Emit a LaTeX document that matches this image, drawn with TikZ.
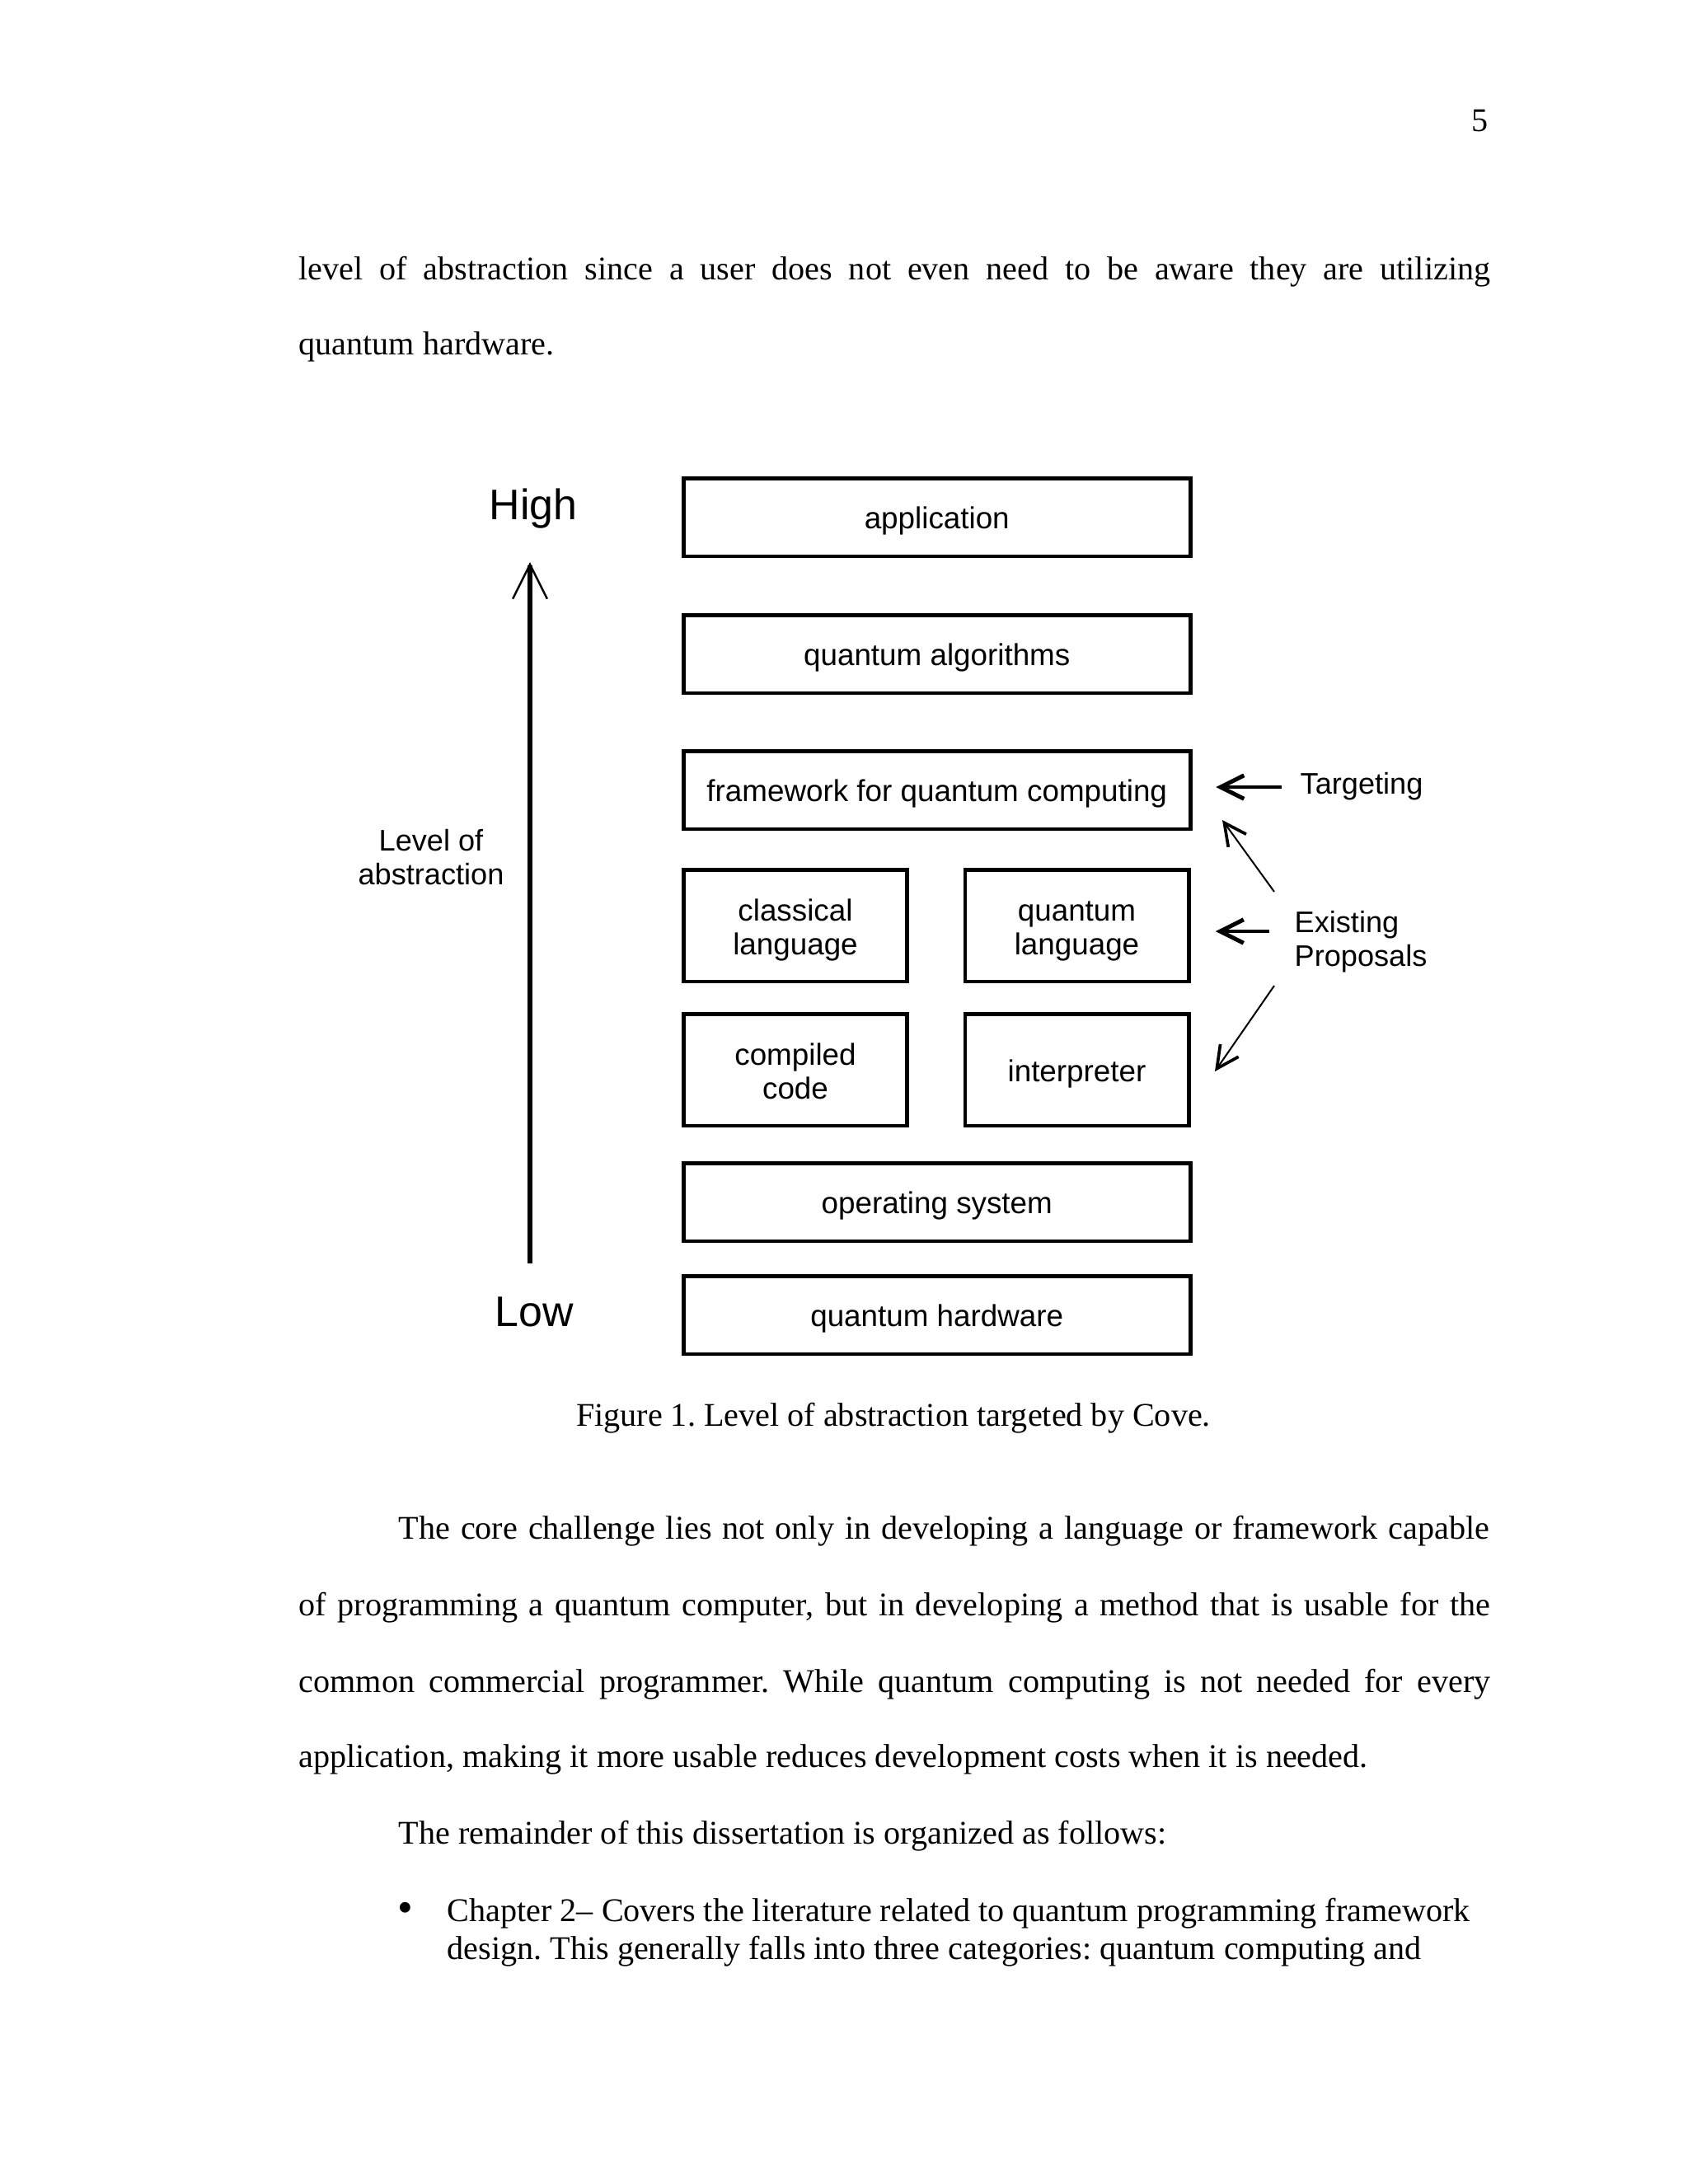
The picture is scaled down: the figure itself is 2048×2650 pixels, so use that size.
\documentclass[tikz,border=0pt]{standalone}
\usepackage{fontspec}
\setmainfont{Liberation Serif}
\newfontfamily\arialf{Liberation Sans}
\usetikzlibrary{arrows.meta}
\begin{document}
\begin{tikzpicture}[x=0.29883pt,y=-0.29883pt,
  box/.style={draw, line width=1.35pt, inner sep=0pt, align=center,
    font=\arialf\fontsize{11}{12}\selectfont},
  one/.style={text height=10.7pt, text depth=2.33pt},
  two/.style={text height=23.3pt, text depth=2.33pt},
  wide/.style={box, one, minimum width=183.78pt, minimum height=28.24pt},
  small/.style={box, two, minimum width=81.13pt, minimum height=40.49pt},
  lbl/.style={font=\arialf\fontsize{10.8}{12}\selectfont, inner sep=0pt},
  big/.style={font=\arialf\fontsize{15.5}{18}\selectfont, inner sep=0pt},
  body/.style={font=\fontsize{12}{14}\selectfont\frenchspacing, inner sep=0pt, anchor=base west},
  mainarrow/.style={line width=1.5pt, -{Straight Barb[length=12.5pt,width=12.5pt,line width=0.75pt]}},
  hvarrow/.style={line width=1.3pt, -{Straight Barb[length=8.5pt,width=8.5pt,line width=1.5pt]}},
  diagarrow/.style={line width=0.6pt, -{Straight Barb[length=8pt,width=8pt,line width=1.1pt]}}
]
\fill[white] (0,0) rectangle (2048,2650);
\useasboundingbox (0,0) rectangle (2048,2650);

% page number and body text
\node[body, anchor=base east] (pn) at (1806,159) {5};
\node[body] (l1) at (362,339) {\makebox[432pt][s]{level of abstraction since a user does not even need to be aware they are utilizing}};
\node[body] (l2) at (362,430) {quantum hardware.};

% boxes
\node[wide] (app) at (1136.75,627.5) {application};
\node[wide] (alg) at (1136.75,793.5) {quantum algorithms};
\node[wide] (fw) at (1136.75,958.5) {framework for quantum computing};
\node[small] (cl) at (965,1123) {classical\\language};
\node[small] (ql) at (1306.5,1123) {quantum\\language};
\node[small] (cc) at (965,1298) {compiled\\code};
\node[small, one] (ip) at (1306.5,1298) {interpreter};
\node[wide] (os) at (1136.75,1458.5) {operating system};
\node[wide] (hw) at (1136.75,1595.5) {quantum hardware};

% left axis
\node[big, anchor=base] (high) at (647,630) {High};
\node[big, anchor=base] (low) at (648.5,1609) {Low};
\node[lbl, align=center, anchor=base] (loa) at (523,1073) {Level of\\abstraction};
\coordinate (abot) at (643,1533);
\coordinate (atop) at (643,682);
\draw[mainarrow] (abot) -- (atop);

% right labels
\node[lbl, anchor=base west] (tgt) at (1577,963) {Targeting};
\node[lbl, align=left, anchor=base west] (ep) at (1570,1172) {Existing\\Proposals};
\coordinate (t1) at (1555,955);
\draw[hvarrow, shorten >=8.59pt] (t1) -- (t1 -| fw.east);
\coordinate (e1) at (1540,1130);
\draw[hvarrow, shorten >=9.04pt] (e1) -- (e1 -| ql.east);
\coordinate (e2) at (1546,1082);
\coordinate (e2t) at (1483,995);
\draw[diagarrow] (e2) -- (e2t);
\coordinate (e3) at (1546,1196);
\coordinate (e3t) at (1474,1300);
\draw[diagarrow] (e3) -- (e3t);

% caption
\node[body, anchor=base] (cap) at (1084,1730) {Figure 1. Level of abstraction targeted by Cove.};

% following text
\node[body] (p1) at (483,1867) {\makebox[395.5pt][s]{The core challenge lies not only in developing a language or framework capable}};
\node[body] (p2) at (362,1960) {\makebox[432pt][s]{of programming a quantum computer, but in developing a method that is usable for the}};
\node[body] (p3) at (362,2053) {\makebox[432pt][s]{common commercial programmer. While quantum computing is not needed for every}};
\node[body] (p4) at (362,2144) {application, making it more usable reduces development costs when it is needed.};
\node[body] (p5) at (483,2237) {The remainder of this dissertation is organized as follows:};
\node[font=\fontsize{16}{16}\selectfont, inner sep=0pt] (bul) at (492,2320) {\textbullet};
\node[body] (b1) at (542,2331) {Chapter 2– Covers the literature related to quantum programming framework};
\node[body] (b2) at (542,2377) {design. This generally falls into three categories: quantum computing and};
\end{tikzpicture}
\end{document}
